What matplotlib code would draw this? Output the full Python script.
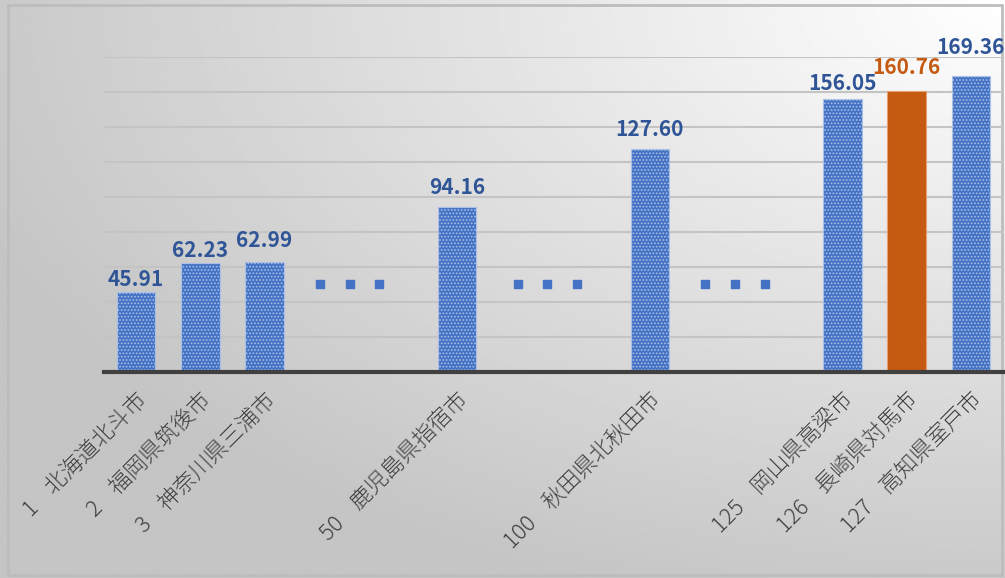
import numpy as np
import matplotlib
matplotlib.use("Agg")
import matplotlib.pyplot as plt
from matplotlib.patches import Rectangle

plt.rcParams['font.family'] = ['Noto Sans CJK JP', 'DejaVu Sans']
plt.rcParams['hatch.color'] = '#8aa6dc'
plt.rcParams['hatch.linewidth'] = 0.8

# data: blank slots are the "..." gaps between ranks
ranks = ['1', '2', '3', '', '', '50', '', '', '100', '', '', '125', '126', '127']
cities = ['北海道北斗市', '福岡県筑後市', '神奈川県三浦市', '', '', '鹿児島県指宿市', '', '',
          '秋田県北秋田市', '', '', '岡山県高梁市', '長崎県対馬市', '高知県室戸市']
values = [45.91, 62.23, 62.99, None, None, 94.16, None, None,
          127.60, None, None, 156.05, 160.76, 169.36]
highlight = '長崎県対馬市'
gap_dots_x = [2.86, 3.33, 3.79, 5.94, 6.40, 6.86, 8.86, 9.33, 9.79]
gap_dots_y = [50] * len(gap_dots_x)

# value labels were placed by hand in the original, gap above bar (px)
label_gap = [3, 3, 12, 0, 0, 10, 0, 0, 10, 0, 0, 6, 14, 19]

BLUE = '#4472C4'
BLUE_TXT = '#2F5597'
ORANGE = '#C55A11'

fig = plt.figure(figsize=(10.05, 5.78), dpi=100)

# background gradient (white top-right -> grey)
bg = fig.add_axes([0, 0, 1, 1], zorder=-10)
xx, yy = np.meshgrid(np.linspace(0, 1, 400), np.linspace(0, 1, 240))
d = np.sqrt((1 - xx) ** 2 + (1 - yy) ** 2)
shade = 1.0 - 0.23 * np.clip(d, 0, 1.1) / 1.1
bg.imshow(shade, cmap='gray', vmin=0, vmax=1, origin='lower',
          extent=[0, 1, 0, 1], aspect='auto')
bg.add_patch(Rectangle((0.0075, 0.005), 0.99, 0.986, fill=False,
                       edgecolor='#bdbdbd', lw=2, transform=bg.transAxes))
bg.axis('off')

ax = fig.add_axes([0.1035, 0.3564, 0.8945, 0.545])
ax.patch.set_alpha(0)

x = np.arange(len(ranks))
for i, v in enumerate(values):
    if v is None:
        continue
    if cities[i] == highlight:
        ax.bar(i, v, width=0.6, color=ORANGE, edgecolor='#e8a070', lw=0.8, zorder=3)
        col = ORANGE
    else:
        ax.bar(i, v, width=0.6, color=BLUE, edgecolor='#a9bfe6', lw=0.8,
               hatch='.....', zorder=3)
        col = BLUE_TXT
    ax.annotate(f'{v:.2f}', (i, v), xytext=(0, label_gap[i] * 0.72 + 2),
                textcoords='offset points', ha='center', va='baseline',
                fontsize=15, fontweight='bold', color=col, zorder=4,
                annotation_clip=False)

ax.scatter(gap_dots_x, gap_dots_y, marker='s', s=30, color=BLUE, zorder=3)

ax.set_xlim(-0.5, len(ranks) - 0.5)
ax.set_ylim(0, 180)
ax.set_yticks(np.arange(20, 181, 20))
ax.yaxis.grid(True, color='#c4c4c4', lw=1.5)
ax.set_axisbelow(True)
ax.tick_params(axis='y', left=False, labelleft=False)
ax.tick_params(axis='x', length=0, pad=12)
for s in ['top', 'right', 'left']:
    ax.spines[s].set_visible(False)
ax.spines['bottom'].set_color('#404040')
ax.spines['bottom'].set_linewidth(3)
ax.spines['bottom'].set_zorder(5)

labels = [f'{r}    {c}' if r else '' for r, c in zip(ranks, cities)]
ax.set_xticks(x)
ax.set_xticklabels(labels, rotation=45, ha='right', rotation_mode='anchor',
                   fontsize=16, fontweight='light', color='#404040')

fig.savefig('out.png', dpi=100)
